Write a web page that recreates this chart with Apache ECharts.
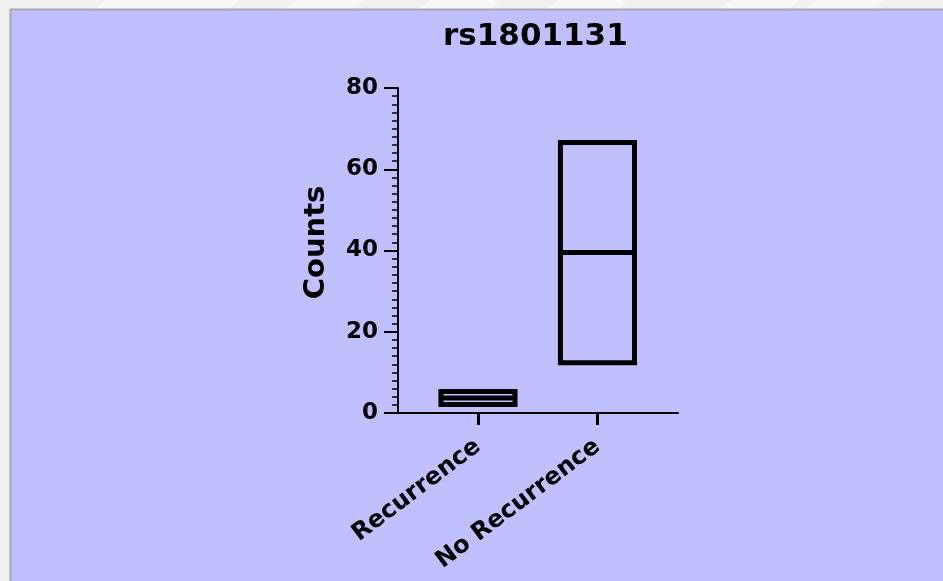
<!DOCTYPE html>
<html>
<head>
<meta charset="utf-8">
<script src="https://cdn.jsdelivr.net/npm/echarts@6/dist/echarts.min.js"></script>
<style>
  html, body { margin: 0; padding: 0; background: #f0f0f0; }
  #chart { width: 943px; height: 581px; }
</style>
</head>
<body>
<div id="chart"></div>
<script>
// ---- data ----
const titleText = 'rs1801131';
const yAxisName = 'Counts';
const categories = ['Recurrence', 'No Recurrence'];
const minValues = [2.1, 12.4];
const medianValues = [3.7, 39.5];
const maxValues = [5.3, 66.6];
const yTicks = [0, 20, 40, 60, 80];

const positions = categories.map((c, i) => i + 1);
const seriesData = categories.map((c, i) => [positions[i], minValues[i], medianValues[i], maxValues[i]]);

const chart = echarts.init(document.getElementById('chart'), null, { renderer: 'canvas', width: 943, height: 581 });
const FONT = '"DejaVu Sans", "Liberation Sans", Arial, sans-serif';

// faint white stripes on the top band
const stripeXs = [95, 160, 285, 420, 548, 720, 805];
const stripes = stripeXs.map(x => ({
  type: 'polygon', z: -9, silent: true,
  shape: { points: [[x, 9], [x + 10, 0], [x + 80, 0], [x + 70, 9]] },
  style: { fill: '#f8f8f8' }
}));

chart.setOption({
  backgroundColor: '#f0f0f0',
  animation: false,
  graphic: [
    ...stripes,
    {
      type: 'rect', z: -8, silent: true,
      shape: { x: 10.5, y: 9.5, width: 940, height: 580 },
      style: { fill: '#c0c0ff', stroke: '#a8a8b8', lineWidth: 2 }
    }
  ],
  title: {
    text: titleText,
    left: 438,
    top: 16,
    textStyle: { fontFamily: FONT, fontWeight: 'bold', fontSize: 31, color: '#000' }
  },
  grid: { left: 398, right: 265, top: 88, bottom: 168, containLabel: false, outerBoundsMode: 'none' },
  xAxis: {
    type: 'value',
    min: 0.3305,
    max: 2.674,
    splitLine: { show: false },
    axisLine: { show: true, onZero: false, lineStyle: { color: '#000', width: 2 } },
    axisTick: { show: true, customValues: positions, length: 12, lineStyle: { color: '#000', width: 3 } },
    axisLabel: {
      show: true,
      customValues: positions,
      rotate: 37,
      margin: 31,
      formatter: v => categories[Math.round(v) - 1] || '',
      fontFamily: FONT, fontWeight: 'bold', fontSize: 24, color: '#000'
    }
  },
  yAxis: {
    type: 'value',
    min: 0,
    max: 80,
    interval: 20,
    name: yAxisName,
    nameLocation: 'middle',
    nameGap: 67,
    nameTextStyle: { fontFamily: FONT, fontWeight: 'bold', fontSize: 29, color: '#000', padding: [0, 0, 0, 16] },
    splitLine: { show: false },
    axisLine: { show: true, lineStyle: { color: '#000', width: 2 } },
    axisTick: { show: true, length: 14, lineStyle: { color: '#000', width: 2 } },
    minorTick: { show: true, splitNumber: 10, length: 6, lineStyle: { color: '#000', width: 1.5 } },
    axisLabel: {
      margin: 20,
      formatter: v => (yTicks.indexOf(v) >= 0 ? String(v) : ''),
      fontFamily: FONT, fontWeight: 'bold', fontSize: 23, color: '#000'
    }
  },
  series: [{
    type: 'custom',
    data: seriesData,
    encode: { x: 0, y: [1, 2, 3] },
    renderItem: function (params, api) {
      const x = api.value(0);
      const lo = api.coord([x, api.value(1)]);
      const med = api.coord([x, api.value(2)]);
      const hi = api.coord([x, api.value(3)]);
      const w = api.size([0.62, 0])[0];
      const style = { fill: 'none', stroke: '#000', lineWidth: 5 };
      return {
        type: 'group',
        children: [
          { type: 'rect', shape: { x: lo[0] - w / 2, y: hi[1], width: w, height: lo[1] - hi[1] }, style: style },
          { type: 'line', shape: { x1: med[0] - w / 2, y1: med[1], x2: med[0] + w / 2, y2: med[1] }, style: { stroke: '#000', lineWidth: 5 } }
        ]
      };
    }
  }]
});
</script>
</body>
</html>
